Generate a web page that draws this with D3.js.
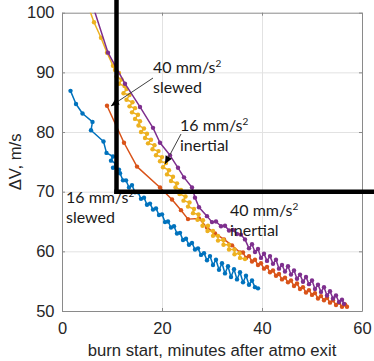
<!DOCTYPE html>
<html>
<head>
<meta charset="utf-8">
<script src="https://cdn.jsdelivr.net/npm/d3@7"></script>
<style>
  body { margin: 0; background: #fff; }
</style>
</head>
<body>
<div id="chart"></div>
<script>
// tick values
const xTicks = [0, 20, 40, 60];
const yTicks = [50, 60, 70, 80, 90, 100];

// [burn start (min), delta V (m/s)]
const slewed16 = [
  [1.7, 86.9], [2.8, 84.7], [4.1, 83.1], [6.1, 81.7], [5.8, 80.3], [8.3, 78.4], [8.9, 76.5],
  [10.2, 75.9], [9.8, 75.2], [10.8, 74.7], [10.2, 74.0], [11.4, 73.7],
  [11.6, 73.1], [12.2, 71.9], [12.8, 71.9], [13.4, 70.7], [14.0, 71.1], [14.6, 69.9],
  [15.2, 69.9], [15.8, 68.8], [16.4, 69.0], [17.0, 67.8], [17.6, 68.0], [18.2, 67.0],
  [18.8, 67.2], [19.4, 66.1], [20.0, 66.2], [20.6, 64.9], [21.2, 65.0], [21.8, 64.0],
  [22.4, 64.2], [23.0, 63.0], [23.6, 63.1], [24.2, 61.9], [24.8, 62.1], [25.4, 61.1],
  [26.0, 61.4], [26.6, 60.3], [27.2, 60.5], [27.8, 59.4], [28.4, 59.7], [29.0, 58.5],
  [29.6, 59.2], [30.2, 57.7], [30.8, 58.6], [31.4, 56.9], [32.0, 58.0], [32.6, 56.3],
  [33.2, 57.5], [33.8, 55.7], [34.4, 57.0], [35.0, 55.3], [35.6, 56.5], [36.2, 54.8],
  [36.8, 55.9], [37.4, 54.4], [38.0, 55.1], [38.6, 54.0], [39.2, 53.8]
];

const slewed40 = [
  [9.0, 84.4], [12.4, 78.2], [15.0, 74.2], [19.6, 70.7], [22.0, 68.7], [23.8, 66.9],
  [25.2, 65.4], [27.4, 65.5], [29.0, 64.0], [30.6, 63.0], [32.4, 62.0], [34.0, 61.0],
  [35.6, 59.8], [36.2, 59.8], [36.8, 58.9], [37.4, 59.2], [38.0, 58.3], [38.6, 58.6],
  [39.2, 57.7], [39.8, 58.0], [40.4, 57.1], [41.0, 57.4], [41.6, 56.5], [42.2, 56.8],
  [42.8, 55.9], [43.4, 56.2], [44.0, 55.3], [44.6, 55.6], [45.2, 54.8], [45.8, 55.1],
  [46.4, 54.2], [47.0, 54.6], [47.6, 53.7], [48.2, 54.0], [48.8, 53.1], [49.4, 53.5],
  [50.0, 52.7], [50.6, 53.0], [51.2, 52.1], [51.8, 52.5], [52.4, 51.8], [53.0, 52.2],
  [53.6, 51.4], [54.2, 51.8], [54.8, 51.0], [55.4, 51.4], [56.0, 50.7], [56.6, 51.1],
  [57.0, 50.7]
];

const inertial16 = [
  [4.8, 102.1], [6.4, 98.4], [7.8, 95.8], [9.0, 93.3], [10.2, 91.1], [10.6, 90.4],
  [11.4, 89.9], [10.9, 89.3], [11.9, 88.8], [11.4, 88.1], [12.5, 87.7], [12.9, 87.2],
  [12.3, 86.5], [13.5, 86.2], [12.9, 85.4], [14.1, 85.0], [13.5, 84.3], [14.6, 84.0],
  [14.0, 83.3], [15.2, 82.9], [14.6, 82.2], [15.6, 81.8], [15.3, 81.1], [16.4, 80.6],
  [15.8, 80.0], [17.0, 79.7], [16.6, 79.0], [17.8, 78.7], [17.2, 78.1], [18.5, 77.8],
  [18.1, 77.1], [19.3, 76.8], [18.8, 76.1], [20.0, 75.8], [19.6, 75.1], [20.8, 74.8],
  [20.2, 74.1], [21.4, 73.6], [21.0, 72.9], [22.2, 72.5], [21.8, 71.8], [23.0, 71.4],
  [22.7, 70.7], [23.8, 70.3], [23.5, 69.6], [24.7, 69.2], [24.3, 68.5], [25.5, 68.2],
  [25.2, 67.5], [26.4, 67.1], [26.2, 66.4], [27.3, 66.2], [27.1, 65.3], [28.2, 65.2],
  [28.1, 64.3], [29.2, 64.3], [29.1, 63.4], [30.2, 63.4], [30.2, 62.6], [31.2, 62.6],
  [31.2, 61.8], [32.3, 61.9], [32.3, 61.1], [33.4, 61.1], [33.4, 60.3], [34.5, 60.3],
  [34.5, 59.5], [35.5, 59.7], [35.6, 58.9], [36.6, 58.7]
];

const inertial40 = [
  [5.8, 102.1], [9.2, 93.3], [12.6, 88.1], [15.6, 84.2], [18.2, 80.7], [19.6, 78.2],
  [21.6, 76.1], [23.2, 74.0], [24.4, 72.4], [26.0, 70.7], [26.6, 69.0], [27.4, 67.4],
  [29.0, 65.9], [30.0, 64.9], [30.8, 65.0], [31.8, 64.2], [32.6, 64.3], [33.4, 63.5],
  [34.2, 63.6], [35.0, 62.9], [35.8, 62.8], [36.6, 62.0], [37.4, 60.5], [38.0, 61.2],
  [38.6, 59.9], [39.2, 60.4], [39.8, 58.9], [40.4, 59.6], [41.0, 58.4], [41.6, 59.2],
  [42.2, 57.9], [42.8, 58.6], [43.4, 57.1], [44.0, 57.7], [44.6, 56.6], [45.2, 57.5],
  [45.8, 56.1], [46.4, 56.8], [47.0, 55.4], [47.6, 56.1], [48.2, 54.9], [48.8, 55.7],
  [49.4, 54.5], [50.0, 55.1], [50.6, 53.7], [51.2, 54.4], [51.8, 53.2], [52.4, 54.0],
  [53.0, 52.6], [53.6, 53.3], [54.2, 52.1], [54.8, 52.6], [55.4, 51.5], [56.0, 51.9],
  [56.4, 51.2]
];

const series = [
  { name: "16 mm/s2 slewed", values: slewed16, color: "#0072BD" },
  { name: "40 mm/s2 slewed", values: slewed40, color: "#D95319" },
  { name: "16 mm/s2 inertial", values: inertial16, color: "#EDB120" },
  { name: "40 mm/s2 inertial", values: inertial40, color: "#7E2F8E" }
];

const width = 374, height = 361;
const plotLeft = 62, plotRight = 362, plotTop = 12.7, plotBottom = 311;

const x = d3.scaleLinear().domain([0, 60]).range([plotLeft, plotRight]);
const y = d3.scaleLinear().domain([50, 100]).range([plotBottom, plotTop]);

const svg = d3.select("#chart").append("svg")
  .attr("width", width)
  .attr("height", height)
  .style("font-family", "'Liberation Sans', Arial, sans-serif");

let defs = svg.append("defs");
defs.append("clipPath").attr("id", "plotclip")
  .append("rect")
  .attr("x", plotLeft).attr("y", plotTop)
  .attr("width", plotRight - plotLeft).attr("height", plotBottom - plotTop);

let arrow = defs.append("marker")
  .attr("id", "arrowhead")
  .attr("viewBox", "0 0 10 10")
  .attr("refX", 10).attr("refY", 5)
  .attr("markerWidth", 9).attr("markerHeight", 8)
  .attr("markerUnits", "userSpaceOnUse")
  .attr("orient", "auto");
arrow.append("path").attr("d", "M0,0.5 L10,5 L0,9.5 z").attr("fill", "#000");

// grid
svg.append("g").selectAll("line")
  .data(xTicks.slice(1, -1))
  .enter().append("line")
  .attr("x1", d => x(d) + 0.5).attr("x2", d => x(d) + 0.5)
  .attr("y1", plotTop).attr("y2", plotBottom)
  .attr("stroke", "#e2e2e2");
svg.append("g").selectAll("line")
  .data(yTicks.slice(1, -1))
  .enter().append("line")
  .attr("y1", d => y(d) + 0.5).attr("y2", d => y(d) + 0.5)
  .attr("x1", plotLeft).attr("x2", plotRight)
  .attr("stroke", "#e2e2e2");

// axes (MATLAB style, ticks inside, box on)
function styleAxis(g) {
  g.select(".domain").attr("stroke", "#8a8a8a");
  g.selectAll(".tick line").attr("stroke", "#8a8a8a");
  g.selectAll(".tick text").attr("fill", "#262626").attr("font-size", "16.5px");
}

svg.append("g")
  .attr("transform", "translate(0," + plotBottom + ")")
  .call(d3.axisBottom(x).tickValues(xTicks).tickSize(-3).tickSizeOuter(0).tickPadding(11))
  .call(styleAxis);
svg.append("g")
  .attr("transform", "translate(" + plotLeft + ",0)")
  .call(d3.axisLeft(y).tickValues(yTicks).tickSize(-3).tickSizeOuter(0).tickPadding(7.5))
  .call(styleAxis);
svg.append("g")
  .attr("transform", "translate(0," + plotTop + ")")
  .call(d3.axisTop(x).tickValues(xTicks).tickSize(-3).tickSizeOuter(0).tickFormat(""))
  .call(styleAxis);
svg.append("g")
  .attr("transform", "translate(" + plotRight + ",0)")
  .call(d3.axisRight(y).tickValues(yTicks).tickSize(-3).tickSizeOuter(0).tickFormat(""))
  .call(styleAxis);

// axis titles
svg.append("text")
  .attr("x", (plotLeft + plotRight) / 2)
  .attr("y", 356)
  .attr("text-anchor", "middle")
  .attr("font-size", "16.7px")
  .attr("fill", "#262626")
  .text("burn start, minutes after atmo exit");

svg.append("text")
  .attr("transform", "translate(21," + ((plotTop + plotBottom) / 2) + ") rotate(-90)")
  .attr("text-anchor", "middle")
  .attr("font-size", "16.7px")
  .attr("fill", "#262626")
  .text("ΔV, m/s");

// series
let line = d3.line().x(d => x(d[0])).y(d => y(d[1]));
let plot = svg.append("g").attr("clip-path", "url(#plotclip)");

series.forEach(s => {
  let g = plot.append("g");
  g.append("path")
    .attr("d", line(s.values))
    .attr("fill", "none")
    .attr("stroke", s.color)
    .attr("stroke-width", 1.5)
    .attr("stroke-linejoin", "round");
  g.selectAll("circle")
    .data(s.values)
    .enter()
    .append("circle")
    .attr("cx", d => x(d[0]))
    .attr("cy", d => y(d[1]))
    .attr("r", 2.2)
    .attr("fill", s.color);
});

// annotations
let notes = [
  { lines: ["40 mm/s", "slewed"], x: 153, y: 73 },
  { lines: ["16 mm/s", "inertial"], x: 180, y: 131 },
  { lines: ["16 mm/s", "slewed"], x: 66, y: 203 },
  { lines: ["40 mm/s", "inertial"], x: 230, y: 216 }
];
notes.forEach(n => {
  let t = svg.append("text")
    .attr("x", n.x).attr("y", n.y)
    .attr("font-family", "Lato, 'Open Sans', sans-serif")
    .attr("font-size", "16px")
    .attr("fill", "#1a1a1a");
  t.append("tspan").text(n.lines[0]);
  t.append("tspan").text("2")
    .attr("font-size", "10px")
    .attr("dy", -6);
  t.append("tspan").text(n.lines[1])
    .attr("x", n.x)
    .attr("dy", 26);
});

let arrows = [
  { x1: 153, y1: 78, x2: 111, y2: 106 },
  { x1: 181, y1: 134, x2: 165, y2: 164 }
];
svg.append("g").selectAll("line")
  .data(arrows)
  .enter().append("line")
  .attr("x1", d => d.x1).attr("y1", d => d.y1)
  .attr("x2", d => d.x2).attr("y2", d => d.y2)
  .attr("stroke", "#404040")
  .attr("stroke-width", 1)
  .attr("marker-end", "url(#arrowhead)");

// thick black frame lines drawn over the chart
svg.append("line")
  .attr("x1", x(10.9)).attr("x2", x(10.9))
  .attr("y1", 0).attr("y2", y(70) + 2.2)
  .attr("stroke", "#000").attr("stroke-width", 4.5);
svg.append("line")
  .attr("x1", x(10.9) - 2.2).attr("x2", width)
  .attr("y1", y(70)).attr("y2", y(70))
  .attr("stroke", "#000").attr("stroke-width", 4.5);
</script>
</body>
</html>
